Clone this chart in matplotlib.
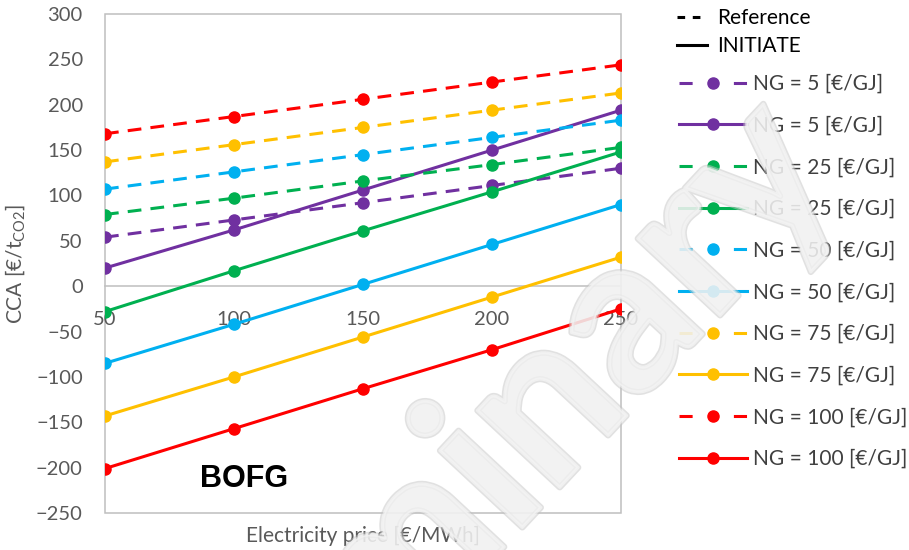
import matplotlib
matplotlib.use("Agg")
import matplotlib.pyplot as plt
from matplotlib.lines import Line2D
from matplotlib.patches import Rectangle
import matplotlib.patheffects as pe

plt.rcParams['font.family'] = ['Lato', 'DejaVu Sans']
plt.rcParams['mathtext.fontset'] = 'custom'
plt.rcParams['mathtext.rm'] = 'Lato'

# ---- data ----
elec_price = [50, 100, 150, 200, 250]
ng_labels = ["NG = 5 [€/GJ]", "NG = 25 [€/GJ]", "NG = 50 [€/GJ]",
             "NG = 75 [€/GJ]", "NG = 100 [€/GJ]"]
ref_ng5 = [54, 73, 92, 111, 130]
ini_ng5 = [20, 62, 106, 150, 194]
ref_ng25 = [79, 97, 116, 134, 153]
ini_ng25 = [-28, 17, 61, 104, 148]
ref_ng50 = [107, 126, 145, 164, 183]
ini_ng50 = [-85, -42, 2, 46, 90]
ref_ng75 = [137, 156, 175, 194, 213]
ini_ng75 = [-143, -100, -56, -12, 32]
ref_ng100 = [168, 187, 206, 225, 244]
ini_ng100 = [-201, -157, -113, -70, -25]
colors = ["#7030A0", "#00B050", "#00B0F0", "#FFC000", "#FF0000"]
yticks = list(range(-250, 301, 50))

ref_series = [ref_ng5, ref_ng25, ref_ng50, ref_ng75, ref_ng100]
ini_series = [ini_ng5, ini_ng25, ini_ng50, ini_ng75, ini_ng100]

W, H = 909, 550
fig = plt.figure(figsize=(W / 100, H / 100), dpi=100)
ax = fig.add_axes([105 / W, 1 - 513 / H, (621 - 105) / W, (513 - 14) / H])

LW = 2.2
MS = 8
DASH = (0, (4.5, 3))
grey = "#BFBFBF"
tcol = "#595959"

handles = []
for c, lab, r, s in zip(colors, ng_labels, ref_series, ini_series):
    ax.plot(elec_price, r, color=c, lw=LW, linestyle=DASH, marker='o',
            ms=MS, zorder=3)
    ax.plot(elec_price, s, color=c, lw=LW, linestyle='-', marker='o',
            ms=MS, zorder=3)
    handles.append(Line2D([], [], color=c, lw=LW, linestyle=(0, (4.3, 13.5)),
                          marker='o', ms=MS))
    handles.append(Line2D([], [], color=c, lw=LW, linestyle='-',
                          marker='o', ms=MS))
labels = [l for l in ng_labels for _ in (0, 1)]

ax.set_xlim(50, 250)
ax.set_ylim(-250, 300)
ax.set_yticks(yticks)
ax.set_xticks(elec_price)

for s in ['top', 'right', 'left']:
    ax.spines[s].set_visible(False)
ax.spines['bottom'].set_position(('data', 0))
ax.spines['bottom'].set_color(grey)
ax.spines['bottom'].set_linewidth(1.1)
ax.spines['bottom'].set_zorder(1)
ax.add_patch(Rectangle((0, 0), 1, 1, transform=ax.transAxes, fill=False,
                       ec=grey, lw=1.1, clip_on=False, zorder=1))

ax.tick_params(axis='both', length=0, labelsize=14.5, colors=tcol)
ax.tick_params(axis='x', pad=18)
ax.tick_params(axis='y', pad=16)

ax.set_xlabel("Electricity price [€/MWh]", fontsize=15, color=tcol)
ax.xaxis.set_label_coords(0.5, -0.025)
ax.set_ylabel("CCA [€/t$_{\\mathrm{CO2}}$]", fontsize=15, color=tcol)
ax.yaxis.set_label_coords(-0.15, 0.5)

ax.text(104, -212, "BOFG", fontsize=22, fontweight='bold', color='black',
        family='Liberation Sans', ha='center', va='center', zorder=4)

# legends
fs = 15
leg1_handles = [Line2D([], [], color='black', lw=LW, linestyle=(0, (2.5, 2.5))),
                Line2D([], [], color='black', lw=LW, linestyle='-')]
leg1 = fig.legend(leg1_handles, ["Reference", "INITIATE"], loc='upper left',
                  bbox_to_anchor=(677 / W, 1 - 8 / H), frameon=False,
                  fontsize=fs, handlelength=1.44, handletextpad=0.5,
                  labelspacing=0.38, borderpad=0, borderaxespad=0)
for t in leg1.get_texts():
    t.set_color('black')

leg2 = fig.legend(handles, labels, loc='upper left',
                  bbox_to_anchor=(679 / W, 1 - 74 / H), frameon=False,
                  fontsize=fs, handlelength=3.26, handletextpad=0.28,
                  labelspacing=1.04, borderpad=0, borderaxespad=0, numpoints=1)
for t in leg2.get_texts():
    t.set_color('#404040')

# watermark
fig.text(800 / W, 1 - 138 / H, "Preliminary", fontsize=158, rotation=47,
         fontweight='bold', rotation_mode='anchor', ha='right', va='center',
         color='#f2f2f2', alpha=0.5, zorder=10,
         path_effects=[pe.Stroke(linewidth=4.5, foreground='#c4c4c4'),
                       pe.Stroke(linewidth=2.2, foreground='white'),
                       pe.Normal()])

fig.savefig("out.png", dpi=100)
